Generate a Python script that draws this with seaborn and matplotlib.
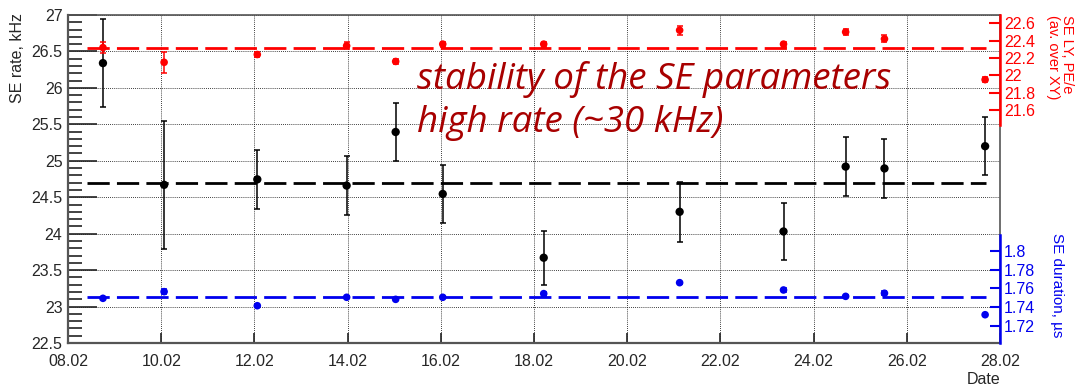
import pandas as pd
import seaborn as sns
import matplotlib.pyplot as plt
import matplotlib.dates as mdates
from matplotlib.ticker import MultipleLocator, FixedLocator

# data
dates = pd.to_datetime([
    "2021-02-08 18:00", "2021-02-10 01:30", "2021-02-12 01:30", "2021-02-13 23:30",
    "2021-02-15 00:45", "2021-02-16 01:00", "2021-02-18 05:00", "2021-02-21 03:00",
    "2021-02-23 08:30", "2021-02-24 16:30", "2021-02-25 12:30", "2021-02-27 16:20",
])
rate = [26.34, 24.67, 24.745, 24.66, 25.395, 24.545, 23.67, 24.30, 24.03, 24.92, 24.895, 25.20]
rate_err = [0.60, 0.88, 0.40, 0.40, 0.40, 0.40, 0.37, 0.41, 0.39, 0.40, 0.40, 0.40]
ly = [22.32, 22.15, 22.24, 22.34, 22.16, 22.36, 22.36, 22.52, 22.36, 22.50, 22.42, 21.95]
ly_err = [0.06, 0.12, 0.03, 0.04, 0.03, 0.03, 0.03, 0.05, 0.03, 0.03, 0.04, 0.03]
dur = [1.7495, 1.7566, 1.7416, 1.7506, 1.7484, 1.7506, 1.7545, 1.7662, 1.7584, 1.7516, 1.7549, 1.7320]
dur_err = [0.001, 0.003, 0.001, 0.001, 0.001, 0.001, 0.002, 0.001, 0.002, 0.001, 0.002, 0.001]

# constant fits (dashed lines)
fit_range = pd.to_datetime(["2021-02-08 10:00", "2021-02-27 17:00"])
rate_fit = 24.69
ly_fit = 22.31
dur_fit = 1.7505

df = pd.DataFrame({"date": dates, "rate": rate, "ly": ly, "dur": dur})

sns.set_theme(style="white")
plt.rcParams['font.family'] = ['Liberation Sans', 'DejaVu Sans']

W, H = 1077, 390
fig = plt.figure(figsize=(W / 100, H / 100), dpi=100)
L, R, T, B = 68, 1000, 15, 343
ax = fig.add_axes([L / W, 1 - B / H, (R - L) / W, (B - T) / H])

RED = "#ff0000"
BLUE = "#0000ee"
dash = (0, (8, 2.6))

# main axis: SE rate
ax.errorbar(df["date"], df["rate"], yerr=rate_err, fmt="none", ecolor="black",
            elinewidth=1.1, capsize=2.5, capthick=1.1, zorder=3)
sns.scatterplot(data=df, x="date", y="rate", ax=ax, color="black", s=36,
                edgecolor="none", zorder=4)
ax.hlines(rate_fit, fit_range[0], fit_range[1], colors="black", linewidth=2,
          linestyles=[dash], zorder=2)

ax.set_xlim(pd.Timestamp("2021-02-08"), pd.Timestamp("2021-02-28"))
ax.set_ylim(22.5, 27)
ax.yaxis.set_major_locator(MultipleLocator(0.5))
ax.yaxis.set_minor_locator(MultipleLocator(0.1))
ax.xaxis.set_major_locator(mdates.DayLocator(bymonthday=range(2, 31, 2)))
ax.xaxis.set_major_formatter(mdates.DateFormatter("%d.%m"))
ax.yaxis.set_major_formatter(plt.FuncFormatter(lambda v, p: f"{v:g}"))
ax.tick_params(axis="y", which="major", direction="in", length=21, width=1.2,
               labelsize=11.5, pad=4, left=True, right=False, color="#222222")
ax.tick_params(axis="y", which="minor", direction="in", length=10, width=1.2,
               left=True, right=False, color="#222222")
ax.tick_params(axis="x", which="major", direction="in", length=7, width=1.2,
               labelsize=11.5, pad=8, bottom=True, top=False, color="#222222")
ax.grid(True, which="major", linestyle=(0, (1, 1.5)), color="black", linewidth=0.6)
for side, sp in ax.spines.items():
    sp.set_color("#555555")
    sp.set_linewidth(1.2)
ax.spines["left"].set_linewidth(1.6)
ax.spines["bottom"].set_linewidth(1.6)

ax.set_xlabel("Date", fontsize=11.5, loc="right")
ax.xaxis.set_label_coords(1.0, -0.088)
ax.xaxis.label.set_ha("right")
ax.xaxis.label.set_va("top")
ax.set_ylabel("SE rate, kHz", fontsize=11.5)
ax.yaxis.set_label_coords(-(L - 18) / (R - L), 1.006)
ax.yaxis.label.set_ha("right")
ax.yaxis.label.set_va("center")

# red twin axis: SE LY
ax_r = ax.twinx()
px_r = 86.7  # pixels per PE/e
top_r = 22.6 + (23.3 - T) / px_r
ax_r.set_ylim(top_r - (B - T) / px_r, top_r)
ax_r.errorbar(df["date"], df["ly"], yerr=ly_err, fmt="none", ecolor=RED,
              elinewidth=1.1, capsize=2.2, capthick=1.1, zorder=3)
sns.scatterplot(data=df, x="date", y="ly", ax=ax_r, color=RED, s=30,
                edgecolor="none", zorder=4)
ax_r.hlines(ly_fit, fit_range[0], fit_range[1], colors=RED, linewidth=2,
            linestyles=[dash], zorder=2)
ax_r.yaxis.set_major_locator(FixedLocator([21.6, 21.8, 22.0, 22.2, 22.4, 22.6]))
ax_r.yaxis.set_major_formatter(plt.FuncFormatter(lambda v, p: f"{v:g}"))
ax_r.tick_params(axis="y", direction="in", length=8, width=1.5, colors=RED,
                 labelsize=11.5, pad=3, right=True, left=False)
for side, sp in ax_r.spines.items():
    sp.set_visible(side == "right")
ax_r.spines["right"].set_color(RED)
ax_r.spines["right"].set_linewidth(1.8)
ax_r.spines["right"].set_bounds(21.43, top_r)
ax_r.set_ylabel("SE LY, PE/e\n(av. over XY)", color=RED, fontsize=10.5,
                rotation=-90, linespacing=1.0)
ax_r.yaxis.set_label_coords((1060 - L) / (R - L), 1.0)
ax_r.yaxis.label.set_ha("left")
ax_r.yaxis.label.set_va("center")
ax_r.grid(False)

# blue twin axis: SE duration
ax_b = ax.twinx()
px_b = 937.0  # pixels per us
top_b = 1.8 + (251 - T) / px_b
ax_b.set_ylim(top_b - (B - T) / px_b, top_b)
ax_b.errorbar(df["date"], df["dur"], yerr=dur_err, fmt="none", ecolor=BLUE,
              elinewidth=1.1, capsize=2.2, capthick=1.1, zorder=3)
sns.scatterplot(data=df, x="date", y="dur", ax=ax_b, color=BLUE, s=30,
                edgecolor="none", zorder=4)
ax_b.hlines(dur_fit, fit_range[0], fit_range[1], colors=BLUE, linewidth=2,
            linestyles=[dash], zorder=2)
ax_b.yaxis.set_major_locator(FixedLocator([1.72, 1.74, 1.76, 1.78, 1.80]))
ax_b.yaxis.set_major_formatter(plt.FuncFormatter(lambda v, p: f"{v:g}"))
ax_b.tick_params(axis="y", direction="in", length=7, width=1.5, colors=BLUE,
                 labelsize=11.5, pad=3, right=True, left=False)
for side, sp in ax_b.spines.items():
    sp.set_visible(side == "right")
ax_b.spines["right"].set_color(BLUE)
ax_b.spines["right"].set_linewidth(1.8)
ax_b.spines["right"].set_bounds(ax_b.get_ylim()[0], 1.817)
ax_b.set_ylabel("SE duration, µs", color=BLUE, fontsize=11, rotation=-90)
ax_b.yaxis.set_label_coords((1057 - L) / (R - L), (B - 233) / (B - T))
ax_b.yaxis.label.set_ha("left")
ax_b.yaxis.label.set_va("center")
ax_b.grid(False)

# title-like annotation inside the plot
ax.text((417 - L) / (R - L), (B - 61) / (B - T),
        "stability of the SE parameters\nhigh rate (~30 kHz)",
        transform=ax.transAxes, ha="left", va="top", color="#a80000",
        fontsize=26.5, style="italic", family=["Open Sans", "DejaVu Sans"],
        linespacing=1.25, zorder=5)

fig.savefig("out.png", dpi=100)
